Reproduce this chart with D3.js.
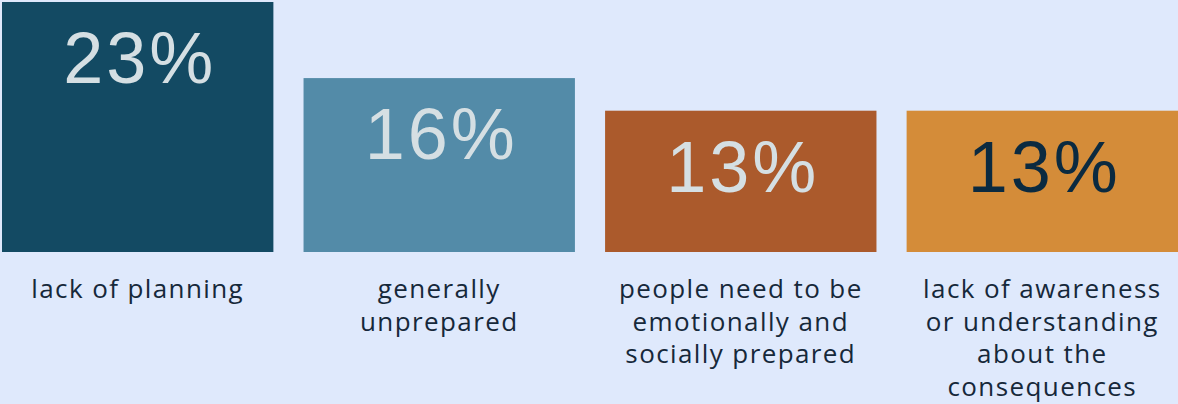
<!DOCTYPE html>
<html lang="en">
<head>
    <meta charset="UTF-8">
    <title>Reasons</title>
    <style>
        html, body {
            margin: 0;
            padding: 0;
            background: #dfe9fc;
        }

        svg {
            display: block;
        }

        .value {
            font-family: "Liberation Sans", Arial, sans-serif;
            font-size: 72px;
            letter-spacing: 3px;
            text-anchor: middle;
        }

        .label {
            font-family: "Open Sans", sans-serif;
            font-size: 26px;
            letter-spacing: 1.4px;
            fill: #16283a;
            text-anchor: middle;
        }
    </style>
    <script src="https://d3js.org/d3.v7.min.js"></script>
</head>
<body>
    <div id="graph"></div>
    <script>
        // data
        const categories = [
            "lack of planning",
            "generally unprepared",
            "people need to be emotionally and socially prepared",
            "lack of awareness or understanding about the consequences"
        ];
        const values = [23, 16, 13, 13];
        const labelLines = [
            ["lack of planning"],
            ["generally", "unprepared"],
            ["people need to be", "emotionally and", "socially prepared"],
            ["lack of awareness", "or understanding", "about the", "consequences"]
        ];
        const barColors = ["#134a63", "#538ba8", "#ab5a2c", "#d48c39"];
        const valueColors = ["#d5dfe3", "#d5dfe3", "#d5dfe3", "#0b2a40"];

        const width = 1178;
        const height = 404;
        const baseline = 252;

        const svg = d3.select("#graph").append("svg")
            .attr("width", width)
            .attr("height", height);

        const x = d3.scaleBand()
            .domain(categories)
            .range([2, 1178])
            .paddingInner(0.1)
            .paddingOuter(0);

        const y = d3.scaleLinear()
            .domain([0, 23])
            .range([baseline, 2]);

        const bars = svg.selectAll(".bar")
            .data(categories)
            .enter().append("g")
            .attr("class", "bar");

        bars.append("rect")
            .attr("x", d => x(d))
            .attr("y", (d, i) => y(values[i]))
            .attr("width", x.bandwidth())
            .attr("height", (d, i) => y(0) - y(values[i]))
            .attr("fill", (d, i) => barColors[i]);

        bars.append("text")
            .attr("class", "value")
            .attr("x", d => x(d) + x.bandwidth() / 2 + 2)
            .attr("y", (d, i) => y(values[i]) + 81)
            .attr("fill", (d, i) => valueColors[i])
            .text((d, i) => values[i] + "%");

        bars.append("text")
            .attr("class", "label")
            .attr("x", d => x(d) + x.bandwidth() / 2)
            .attr("y", 298)
            .selectAll("tspan")
            .data((d, i) => labelLines[i])
            .enter().append("tspan")
            .attr("x", function () { return d3.select(this.parentNode).attr("x"); })
            .attr("dy", (d, j) => j === 0 ? 0 : 32.5)
            .text(d => d);
    </script>
</body>
</html>
